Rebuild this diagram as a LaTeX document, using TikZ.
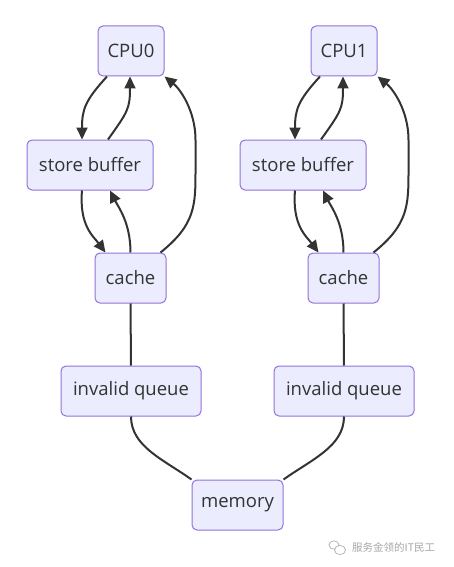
\documentclass[tikz,border=0pt]{standalone}
\usepackage{fontspec}
\setmainfont{Open Sans}
\newfontfamily\cjkfont{Noto Sans CJK SC}
\usetikzlibrary{arrows.meta}
\definecolor{nodefill}{HTML}{ECECFF}
\definecolor{nodeline}{HTML}{9370DB}
\definecolor{edgecol}{HTML}{333333}
\tikzset{
  box/.style={draw=nodeline, fill=nodefill, line width=1pt, rounded corners=5pt,
    minimum height=50pt, inner sep=0pt, text=edgecol, font=\fontsize{18.5}{22}\selectfont},
  link/.style={draw=edgecol, line width=2pt},
  arr/.style={link, -{Triangle[length=12pt,width=11pt]}},
}
\begin{document}
\begin{tikzpicture}[x=1pt,y=-1pt]
\useasboundingbox (0,0) rectangle (453,567);
\foreach \i/\dx in {0/0,1/213}{
  \begin{scope}[xshift=\dx pt]
  \node[box, minimum width=66pt] (cpu\i) at (131,51) {CPU\i};
  \node[box, minimum width=126pt] (sb\i) at (90,165) {store buffer};
  \node[box, minimum width=71pt] (c\i) at (130.5,278) {cache};
  \node[box, minimum width=140pt] (iq\i) at (131,391) {invalid queue};
  \end{scope}
}
\node[box, minimum width=91pt] (mem) at (237.5,505) {memory};
\foreach \i in {0,1}{
  % CPU -> store buffer
  \draw[arr] ([xshift=-24pt]cpu\i.south) .. controls +(-22,24) and +(0,-30) .. ([xshift=-8pt]sb\i.north);
  % store buffer -> CPU
  \draw[arr] ([xshift=18pt]sb\i.north) .. controls +(20,-28) and +(0,32) .. ([xshift=-1pt]cpu\i.south);
  % store buffer -> cache
  \draw[arr] ([xshift=-8pt]sb\i.south) .. controls +(-3,35) and +(-12,-16) .. ([xshift=-25pt]c\i.north);
  % cache -> store buffer
  \draw[arr] (c\i.north) .. controls +(0,-30) and +(8,16) .. ([xshift=20pt]sb\i.south);
  % cache -> CPU
  \draw[arr] ([xshift=30pt]c\i.north) .. controls +(35,-28) and +(0,35) .. ([xshift=65pt]c\i.north |- 0,170)
     -- ([xshift=65pt]c\i.north |- 0,140) .. controls +(0,-30) and +(15,12) .. (cpu\i.south east);
  % cache -- invalid queue
  \draw[link] (c\i.south) -- (iq\i.north);
}
\draw[link] (iq0.south) .. controls +(0,30) and +(-28,-20) .. (mem.north west);
\draw[link] (iq1.south) .. controls +(0,30) and +(28,-20) .. (mem.north east);
% watermark
\node[inner sep=0pt, text=gray!70, font=\cjkfont\fontsize{10.5}{12}\selectfont, anchor=west] (wm) at (352,547) {服务金领的IT民工};
\draw[gray!60, line width=0.7pt] (334,545) ellipse (5pt and 4.2pt);
\draw[gray!60, line width=0.7pt, fill=white] (340,550) ellipse (5.5pt and 4.6pt);
\end{tikzpicture}
\end{document}
